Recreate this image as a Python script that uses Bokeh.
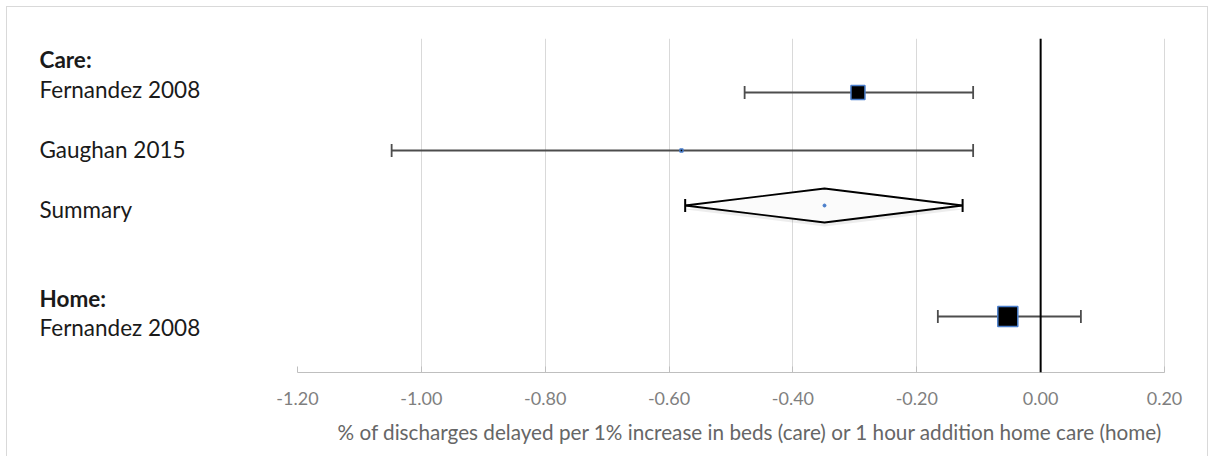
from bokeh.plotting import figure
from bokeh.models import (Range1d, FixedTicker, PrintfTickFormatter, Span, Whisker,
                          TeeHead, ColumnDataSource, Title, InlineStyleSheet)
from bokeh.core.properties import value
from bokeh.embed import file_html
from bokeh.resources import INLINE

# ---------------- data ----------------
study_names = ["Fernandez 2008", "Gaughan 2015", "Fernandez 2008"]
study_groups = ["Care", "Care", "Home"]
study_est = [-0.295, -0.58, -0.053]
study_lo = [-0.478, -1.048, -0.166]
study_hi = [-0.109, -0.109, 0.065]

summary_est = -0.349
summary_lo = -0.574
summary_hi = -0.126

tick_values = [-1.2, -1.0, -0.8, -0.6, -0.4, -0.2, 0.0, 0.2]
x_title = "% of discharges delayed per 1% increase in beds (care) or 1 hour addition home care (home)"

row_labels = ["Care:", "Fernandez 2008", "Gaughan 2015", "Summary", "Home:", "Fernandez 2008"]
row_bold = [True, False, False, False, True, False]

# ---------------- layout / style ----------------
W, H = 1208, 456
FONT = "Lato"
label_rows = [58.5, 88.5, 148.5, 209, 297.5, 326.5]   # vertical layout slots
marker_rows = [92, 150, 316]
summary_row = 205
marker_sizes = [14, 3, 20]
diamond_half = 17

px_per_unit = 867 / 1.4
x_start = -1.2 - (297 - 6) / px_per_unit
x_end = 0.2 + (1207 - 1164) / px_per_unit
label_x = -1.2 - (297 - 39) / px_per_unit

border_css = InlineStyleSheet(css="""
:host { position: relative; }
:host::after {
  content: "";
  position: absolute;
  left: 6px; top: 6px; right: 0px; bottom: 0px;
  border: 1px solid #d9d9d9;
  border-bottom: none;
  pointer-events: none;
  z-index: 10;
}
""")

p = figure(width=W, height=H, output_backend="svg", toolbar_location=None,
           x_range=Range1d(x_start, x_end), y_range=Range1d(372, 38),
           y_axis_location=None, min_border_left=6, min_border_right=1,
           min_border_top=38, min_border_bottom=84, stylesheets=[border_css])
p.outline_line_color = None
p.background_fill_color = "white"
p.border_fill_color = "white"

# axis
ax = p.xaxis[0]
ax.ticker = FixedTicker(ticks=tick_values)
ax.formatter = PrintfTickFormatter(format="%.2f")
ax.bounds = (tick_values[0], tick_values[-1])
ax.axis_line_color = "#bfbfbf"
ax.axis_line_width = 1
ax.major_tick_line_color = "#bfbfbf"
ax.major_tick_in = 6
ax.major_tick_out = 0
ax.minor_tick_line_color = None
ax.major_label_text_font = FONT
ax.major_label_text_font_size = "18px"
ax.major_label_text_color = "#7f7f7f"
ax.major_label_standoff = 19

p.xgrid.ticker = FixedTicker(ticks=tick_values[1:])
p.xgrid.grid_line_color = "#d9d9d9"
p.ygrid.grid_line_color = None

title = Title(text=x_title, align="left", offset=331, text_font=FONT,
              text_font_size="20.7px", text_color="#666666", text_font_style="normal",
              standoff=21)
p.add_layout(title, "below")

# zero line
p.add_layout(Span(location=0, dimension="height", line_color="black", line_width=2))

# row labels
for txt, yy, b in zip(row_labels, label_rows, row_bold):
    p.text(x=[label_x], y=[yy], text=[txt], text_font=value(FONT), text_font_size="22.5px",
           text_color="#1a1a1a", text_baseline="middle", text_align="left",
           text_font_style="bold" if b else "normal")

# study CIs
src = ColumnDataSource(dict(y=marker_rows, lo=study_lo, hi=study_hi, est=study_est,
                            size=marker_sizes))
p.add_layout(Whisker(source=src, base="y", lower="lo", upper="hi", dimension="width",
                     line_color="#4d4d4d", line_width=1.8,
                     lower_head=TeeHead(size=13, line_color="#4d4d4d", line_width=1.8),
                     upper_head=TeeHead(size=13, line_color="#4d4d4d", line_width=1.8)))
p.scatter(x="est", y="y", size="size", marker="square", source=src,
          fill_color="black", line_color="#4a7ecb", line_width=1.5)

# summary diamond
dx = [summary_lo, summary_est, summary_hi, summary_est]
dy = [summary_row, summary_row - diamond_half, summary_row, summary_row + diamond_half]
p.patch(x=dx, y=[v + 4 for v in dy], fill_color="black", fill_alpha=0.07, line_color=None)
p.patch(x=dx, y=dy, fill_color="#fbfbfb", line_color="black", line_width=1.8)
ssrc = ColumnDataSource(dict(y=[summary_row], lo=[summary_lo], hi=[summary_hi], est=[summary_est]))
p.add_layout(Whisker(source=ssrc, base="y", lower="lo", upper="hi", dimension="width",
                     line_color="black", line_width=1.6,
                     lower_head=TeeHead(size=13, line_color="black", line_width=2),
                     upper_head=TeeHead(size=13, line_color="black", line_width=2)))
p.scatter(x="est", y="y", size=3, source=ssrc, color="#4a7ecb")

open("out.html", "w").write(file_html(p, INLINE))
